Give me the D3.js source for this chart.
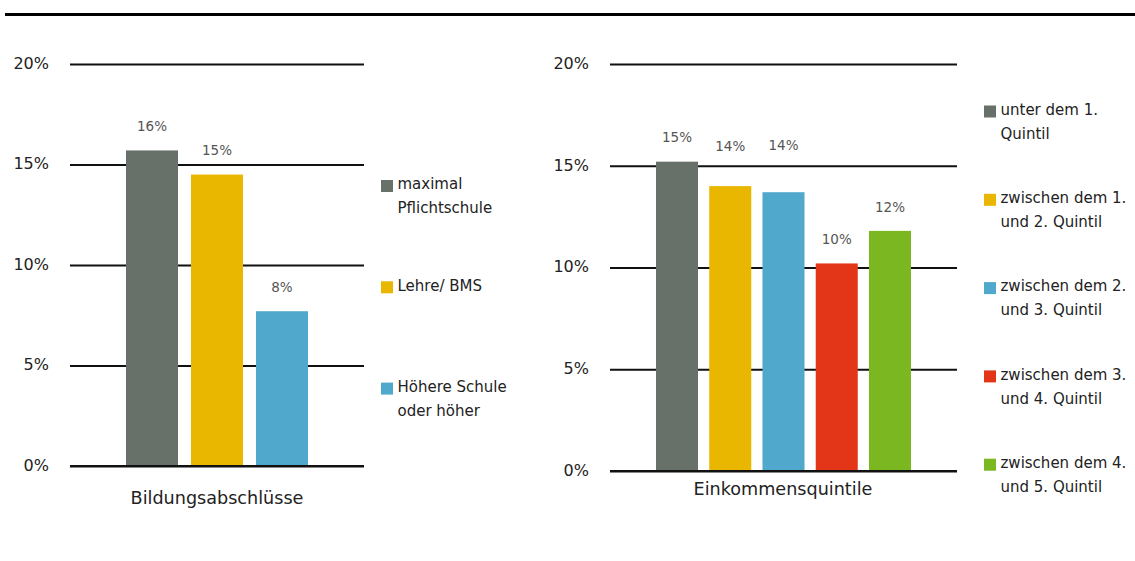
<!DOCTYPE html>
<html><head><meta charset="utf-8">
<script src="https://cdn.jsdelivr.net/npm/d3@7"></script>
<style>
html,body{margin:0;padding:0;background:#fff;}
svg{display:block;font-family:"DejaVu Sans",Verdana,sans-serif;}
</style></head>
<body>
<svg id="c" width="1135" height="561"></svg>
<script>
// ---------- data ----------
const eduCategories = ["maximal Pflichtschule", "Lehre/ BMS", "Höhere Schule oder höher"];
const eduLegendLines = [["maximal", "Pflichtschule"], ["Lehre/ BMS"], ["Höhere Schule", "oder höher"]];
const eduValues = [15.7, 14.5, 7.7];
const eduTitle = "Bildungsabschlüsse";

const incCategories = ["unter dem 1. Quintil", "zwischen dem 1. und 2. Quintil", "zwischen dem 2. und 3. Quintil", "zwischen dem 3. und 4. Quintil", "zwischen dem 4. und 5. Quintil"];
const incLegendLines = [["unter dem 1.", "Quintil"], ["zwischen dem 1.", "und 2. Quintil"], ["zwischen dem 2.", "und 3. Quintil"], ["zwischen dem 3.", "und 4. Quintil"], ["zwischen dem 4.", "und 5. Quintil"]];
const incValues = [15.2, 14.0, 13.7, 10.2, 11.8];
const incTitle = "Einkommensquintile";

const yTicks = [0, 5, 10, 15, 20];
const yTickLabels = ["0%", "5%", "10%", "15%", "20%"];

// ---------- styles / layout ----------
const eduColors = ["#687169", "#e9b600", "#50a9cc"];
const incColors = ["#687169", "#e9b600", "#50a9cc", "#e33618", "#7bb720"];
const incLabelLift = [0, 16, 23, 0, 0];

const svg = d3.select("#c");

svg.append("line").attr("x1", 5).attr("x2", 1135).attr("y1", 14.5).attr("y2", 14.5)
  .attr("stroke", "#000").attr("stroke-width", 3);

function drawChart(o) {
  const g = svg.append("g");
  const y = d3.scaleLinear().domain([0, 20]).range([o.y0, o.y20]);
  const x = d3.scaleBand().domain(o.cats).range([o.bx0, o.bx1]).paddingInner(o.pad).paddingOuter(0);

  // gridlines via axis
  const ax = d3.axisLeft(y).tickValues(yTicks).tickSize(-(o.gx1 - o.gx0))
    .tickFormat((d, i) => yTickLabels[i]).tickPadding(21);
  const axg = g.append("g").attr("transform", `translate(${o.gx0},0)`).call(ax);
  axg.select(".domain").remove();
  axg.selectAll(".tick line").attr("stroke", "#111").attr("stroke-width", 2);
  axg.selectAll(".tick text").attr("font-size", 16).attr("fill", "#222")
    .attr("font-family", "DejaVu Sans, sans-serif").attr("dy", "0.28em");

  // bars
  g.selectAll("rect.bar").data(o.vals).join("rect").attr("class", "bar")
    .attr("x", (d, i) => x(o.cats[i])).attr("width", x.bandwidth())
    .attr("y", d => y(d)).attr("height", d => y(0) - y(d))
    .attr("fill", (d, i) => o.colors[i]);

  // redraw baseline on top
  g.append("line").attr("x1", o.gx0).attr("x2", o.gx1).attr("y1", y(0)).attr("y2", y(0))
    .attr("stroke", "#111").attr("stroke-width", 2);

  // value labels
  g.selectAll("text.val").data(o.vals).join("text").attr("class", "val")
    .attr("x", (d, i) => x(o.cats[i]) + x.bandwidth() / 2)
    .attr("y", (d, i) => y(d) - 24 - (o.lift ? o.lift[i] : 0))
    .attr("dy", "0.35em").attr("text-anchor", "middle")
    .attr("font-size", 13.5).attr("fill", "#555")
    .text(d => Math.round(d) + "%");

  // axis title
  g.append("text").attr("x", o.titleX).attr("y", o.titleY).attr("dy", "0.35em")
    .attr("text-anchor", "middle").attr("font-size", 17.6).attr("fill", "#222")
    .text(o.title);

  // legend
  const lg = g.append("g");
  o.legend.forEach((lines, i) => {
    const cy = o.legY0 + i * o.legStep;
    lg.append("rect").attr("x", o.legX).attr("y", cy - 4).attr("width", 12).attr("height", 12)
      .attr("fill", o.colors[i]);
    lines.forEach((t, j) => {
      lg.append("text").attr("x", o.legX + 16.5).attr("y", cy + j * 24).attr("dy", "0.35em")
        .attr("font-size", 15).attr("fill", "#222").text(t);
    });
  });
}

drawChart({
  cats: eduCategories, vals: eduValues, colors: eduColors, legend: eduLegendLines, title: eduTitle,
  y0: 466, y20: 64, gx0: 70, gx1: 364, bx0: 126, bx1: 308, pad: 0.2,
  titleX: 217, titleY: 498, legX: 381, legY0: 184, legStep: 101.3
});

drawChart({
  cats: incCategories, vals: incValues, colors: incColors, legend: incLegendLines, title: incTitle,
  lift: incLabelLift,
  y0: 471, y20: 64, gx0: 610, gx1: 957, bx0: 656, bx1: 911, pad: 0.211,
  titleX: 783, titleY: 489, legX: 984, legY0: 109.5, legStep: 88.3
});
</script>
</body></html>
